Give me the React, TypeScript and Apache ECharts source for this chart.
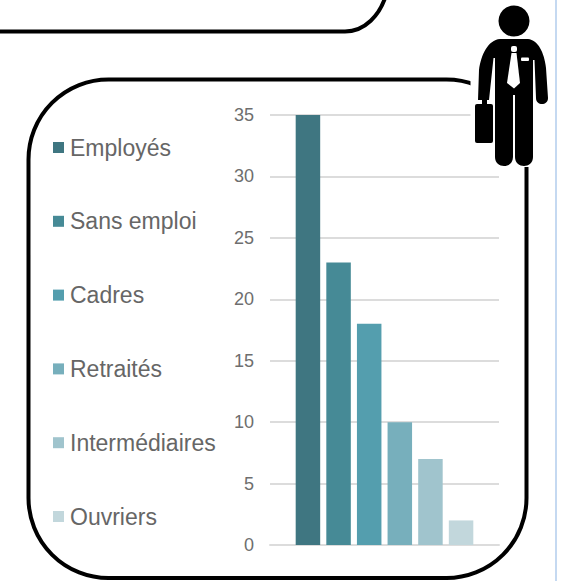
import React, { useEffect, useRef } from "react";
import * as echarts from "echarts";

const groups = ["Répartition"];
const seriesNames = ["Employés", "Sans emploi", "Cadres", "Retraités", "Intermédiaires", "Ouvriers"];
const seriesValues = [35, 23, 18, 10, 7, 2];
const seriesColors = ["#3f7681", "#468a96", "#549eae", "#77afbc", "#a0c4cd", "#c2d7dc"];

const FONT = "'Liberation Sans', Arial, sans-serif";

echarts.graphic.registerShape(
  "manBody",
  echarts.graphic.extendPath(
    "M500 39 H528 C538 40 544 52 546 68 L548 98 C548 106 536 106 536 98 L534.5 60 L533 60 L533 157 C533 169 515 169 515 157 L515 95 L513 95 L513 157 C513 169 495 169 495 157 L495 58 L493.5 58 L489 100 L487 100 L487 106 L482 106 L482 100 L478 100 L479 70 C481 55 488 40 500 39 Z",
    {}
  )
);
echarts.graphic.registerShape(
  "manTie",
  echarts.graphic.extendPath("M511.5 53 H516.5 L520 83 L514 88.5 L507 83 Z", {})
);
echarts.graphic.registerShape(
  "topPanelEdge",
  echarts.graphic.extendPath("M-5 31.5 H345 C 365 31.5 380 15 386 -5", {})
);

export default function App() {
  const ref = useRef<HTMLDivElement>(null);
  useEffect(() => {
    const chart = echarts.init(ref.current!, undefined, { renderer: "svg" });
    chart.setOption({
      animation: false,
      backgroundColor: "#ffffff",
      grid: { left: 270, right: 62, top: 115, bottom: 36, containLabel: false },
      legend: {
        orient: "vertical",
        left: 48,
        top: 131,
        icon: "rect",
        itemWidth: 11,
        itemHeight: 11,
        itemGap: 50.8,
        selectedMode: false,
        data: seriesNames,
        textStyle: { fontFamily: FONT, fontSize: 23, color: "#666666", padding: [0, 0, 0, 1] },
      },
      xAxis: {
        type: "category",
        data: groups,
        axisLabel: { show: false },
        axisTick: { show: false },
        axisLine: { show: true, lineStyle: { color: "#dcdcdc", width: 2 } },
      },
      yAxis: {
        type: "value",
        min: 0,
        max: 35,
        interval: 5,
        axisLine: { show: false },
        axisTick: { show: false },
        axisLabel: { fontFamily: FONT, fontSize: 18, color: "#6e6e6e", margin: 16 },
        splitLine: { lineStyle: { color: "#dcdcdc", width: 2 } },
      },
      series: seriesNames.map((name, i) => ({
        name,
        type: "bar",
        data: [seriesValues[i]],
        barWidth: 24.5,
        barGap: "25%",
        itemStyle: { color: seriesColors[i] },
      })),
      graphic: [
        { type: "line", z: 1, shape: { x1: 556, y1: 0, x2: 556, y2: 581 }, style: { stroke: "#c5d9f1", lineWidth: 2 } },
        { type: "topPanelEdge", z: 1, style: { fill: "none", stroke: "#000000", lineWidth: 4 } },
        {
          type: "rect",
          z: 1,
          shape: { x: 28.5, y: 79.5, width: 498, height: 498.5, r: 80 },
          style: { fill: "none", stroke: "#000000", lineWidth: 4 },
        },
        { type: "rect", z: 100, shape: { x: 470.5, y: 0, width: 84, height: 167 }, style: { fill: "#ffffff" } },
        { type: "circle", z: 101, shape: { cx: 514, cy: 21, r: 15.5 }, style: { fill: "#000000" } },
        { type: "manBody", z: 101, style: { fill: "#000000" } },
        { type: "rect", z: 101, shape: { x: 475, y: 104, width: 18, height: 39, r: 2 }, style: { fill: "#000000" } },
        { type: "rect", z: 102, shape: { x: 511, y: 46, width: 6, height: 6, r: 2 }, style: { fill: "#ffffff" } },
        { type: "manTie", z: 102, style: { fill: "#ffffff" } },
        { type: "rect", z: 102, shape: { x: 521, y: 57.5, width: 8, height: 3.5, r: 1 }, style: { fill: "#ffffff" } },
      ],
    });
    return () => chart.dispose();
  }, []);
  return <div ref={ref} style={{ position: "fixed", left: 0, top: 0, width: 561, height: 581 }} />;
}
